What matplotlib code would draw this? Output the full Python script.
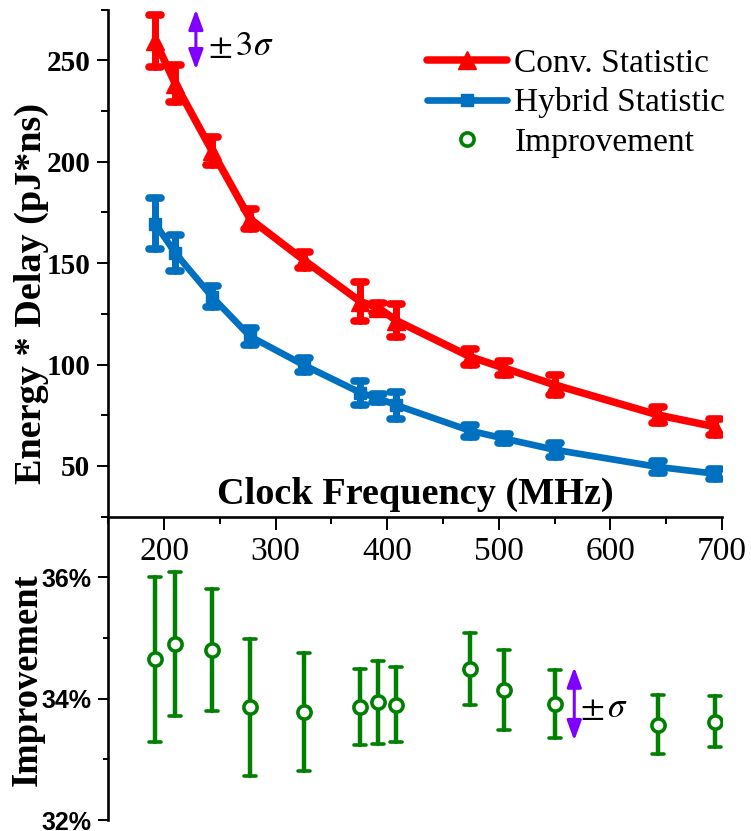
import matplotlib
matplotlib.use("Agg")
import matplotlib.pyplot as plt
from matplotlib.lines import Line2D
from matplotlib.markers import MarkerStyle
from matplotlib.ticker import MultipleLocator, FuncFormatter

# ---------------- data ----------------
freq = [192, 210, 243, 277, 325, 376, 392, 408, 474, 505, 550, 643, 694]
conv = [259.5, 238.5, 205.3, 171.8, 151.6, 131.0, 128.0, 121.7, 103.9, 98.2, 90.0, 75.1, 69.3]
conv_err = [12.8, 9.0, 7.0, 5.0, 4.1, 9.5, 2.5, 8.0, 4.0, 3.5, 5.0, 4.0, 4.0]
hybrid = [169.4, 155.0, 133.4, 113.9, 99.8, 86.1, 83.3, 80.0, 67.4, 63.5, 58.0, 49.5, 46.2]
hybrid_err = [12.6, 8.9, 5.2, 4.1, 3.6, 6.0, 2.0, 6.6, 3.0, 2.2, 3.5, 2.8, 2.5]
improv = [34.65, 34.90, 34.80, 33.86, 33.78, 33.86, 33.94, 33.90, 34.49, 34.14, 33.91, 33.57, 33.62]
improv_err = [1.36, 1.19, 1.00, 1.13, 0.97, 0.63, 0.68, 0.62, 0.60, 0.66, 0.56, 0.49, 0.42]
labels = ["Conv. Statistic", "Hybrid Statistic", "Improvement"]

RED = "#FF0000"
BLUE = "#0070C0"
GREEN = "#008000"
PURPLE = "#7F00FF"

plt.rcParams["font.family"] = ["Liberation Serif", "DejaVu Serif"]
plt.rcParams["mathtext.fontset"] = "stix"

W, H = 751, 831
fig = plt.figure(figsize=(W / 100, H / 100), dpi=100)

x0, x1 = 108.3, 722.0
yt0, yt1 = 9.5, 516.7
yb1 = 820.0
ax1 = fig.add_axes([x0 / W, 1 - yt1 / H, (x1 - x0) / W, (yt1 - yt0) / H])
ax2 = fig.add_axes([x0 / W, 1 - yb1 / H, (x1 - x0) / W, (yb1 - yt1) / H], sharex=ax1)
ax2.patch.set_visible(False)


def round_caps(container, capstyle="round"):
    _, caps, bars = container.lines
    for c in caps:
        c.set_marker(MarkerStyle("_", capstyle=capstyle))
    for b in bars:
        b.set_capstyle(capstyle)


e1 = ax1.errorbar(freq, conv, yerr=conv_err, color=RED, lw=5.4, marker="^", ms=13,
                  elinewidth=5, capsize=4.5, capthick=5.5, solid_capstyle="round",
                  solid_joinstyle="round", zorder=3)
round_caps(e1)
e2 = ax1.errorbar(freq, hybrid, yerr=hybrid_err, color=BLUE, lw=4.8, marker="s", ms=8.5,
                  elinewidth=5, capsize=4.5, capthick=5.5, solid_capstyle="round",
                  solid_joinstyle="round", zorder=3)
round_caps(e2)
e3 = ax2.errorbar(freq, improv, yerr=improv_err, fmt="o", color=GREEN, mfc="white",
                  mec=GREEN, ms=9.5, mew=2.6, elinewidth=3.2, capsize=4, capthick=3.4,
                  zorder=3)
round_caps(e3)

# axes 1
ax1.set_xlim(150, 700)
ax1.set_ylim(25, 275)
for s in ["top", "right"]:
    ax1.spines[s].set_visible(False)
for s in ["left", "bottom"]:
    ax1.spines[s].set_linewidth(1.9)
ax1.xaxis.set_major_locator(MultipleLocator(100))
ax1.xaxis.set_minor_locator(MultipleLocator(50))
ax1.yaxis.set_minor_locator(MultipleLocator(25))
ax1.set_yticks([50, 100, 150, 200, 250])
ax1.tick_params(axis="x", which="major", length=9.5, width=1.4, direction="out", pad=5, labelsize=24)
ax1.tick_params(axis="x", which="minor", length=5, width=1.4, direction="out")
ax1.tick_params(axis="y", which="major", length=8, width=1.4, direction="out", pad=5, labelsize=21)
ax1.tick_params(axis="y", which="minor", length=5, width=1.4, direction="out")
for t in ax1.get_yticklabels():
    t.set_fontweight("bold")

ax1.text(0.5, 0.025, "Clock Frequency (MHz)", transform=ax1.transAxes, ha="center",
         va="baseline", fontsize=27.5, fontweight="bold")

# axes 2
ax2.set_ylim(32, 37)
for s in ["top", "right", "bottom"]:
    ax2.spines[s].set_visible(False)
ax2.spines["left"].set_linewidth(1.9)
ax2.set_yticks([32, 34, 36])
ax2.yaxis.set_minor_locator(MultipleLocator(1))
ax2.yaxis.set_major_formatter(FuncFormatter(lambda v, p: f"{v:.0f}%"))
ax2.tick_params(axis="x", which="both", bottom=False, labelbottom=False)
ax2.tick_params(axis="y", which="major", length=7, width=1.4, pad=5, labelsize=18)
ax2.tick_params(axis="y", which="minor", length=3.5, width=1.4)
for t in ax2.get_yticklabels():
    t.set_fontfamily(["Liberation Sans", "DejaVu Sans"])
    t.set_fontweight("bold")

# y labels
fig.text(41 / W, 1 - 293.5 / H, "Energy * Delay (pJ*ns)", rotation=90, rotation_mode="anchor",
         ha="center", va="baseline", fontsize=27.5, fontweight="bold")
fig.text(37 / W, 1 - 680 / H, "Improvement", rotation=90, rotation_mode="anchor",
         ha="center", va="baseline", fontsize=26.3, fontweight="bold")

# arrows / sigma annotations
astyle = "<|-|>,head_length=0.6,head_width=0.22"
ax1.annotate("", xy=(228.5, 275), xytext=(228.5, 245.4),
             arrowprops=dict(arrowstyle=astyle, color=PURPLE, lw=2.2, shrinkA=0, shrinkB=0,
                             mutation_scale=20), annotation_clip=False)
ax1.text(239.6, 257.0, r"$\pm\,3\sigma$", fontsize=25, ha="left", va="center")
ax2.annotate("", xy=(567.6, 34.52), xytext=(567.6, 33.31),
             arrowprops=dict(arrowstyle=astyle, color=PURPLE, lw=2.2, shrinkA=0, shrinkB=0,
                             mutation_scale=20), annotation_clip=False)
ax2.text(572.3, 33.84, r"$\pm\,\sigma$", fontsize=25, ha="left", va="center")

# legend
handles = [
    Line2D([], [], color=RED, lw=5.4, marker="^", ms=13, solid_capstyle="round"),
    Line2D([], [], color=BLUE, lw=4.8, marker="s", ms=8.5, solid_capstyle="round"),
    Line2D([], [], ls="none", marker="o", mfc="white", mec=GREEN, ms=9.5, mew=2.6),
]
ax1.legend(handles, labels, loc="upper left", bbox_to_anchor=(427 / W, 1 - 48 / H),
           bbox_transform=fig.transFigure, frameon=False, borderpad=0, borderaxespad=0,
           handlelength=2.4, handletextpad=0.22, labelspacing=0.27, fontsize=24)

fig.savefig("out.png", dpi=100)
